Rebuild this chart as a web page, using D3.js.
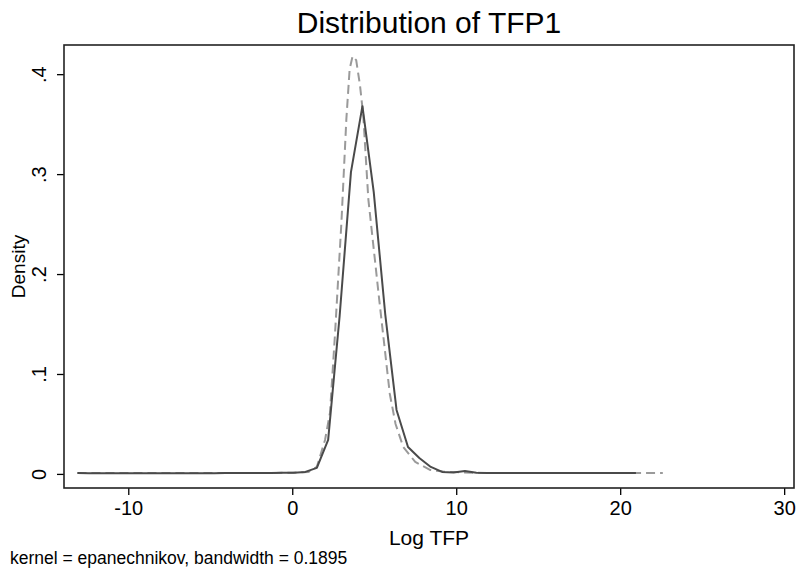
<!DOCTYPE html>
<html>
<head>
<meta charset="utf-8">
<script src="https://cdn.jsdelivr.net/npm/d3@7"></script>
<style>
  body { margin: 0; background: #fff; }
  text { font-family: "Liberation Sans", Arial, sans-serif; fill: #000; }
</style>
</head>
<body>
<div id="chart"></div>
<script>
// kernel density, solid series (Stata grid of 50 points)
var solidX = [-13.1, -12.4, -11.71, -11.02, -10.32, -9.63, -8.93, -8.24, -7.54, -6.85,
              -6.15, -5.46, -4.76, -4.07, -3.37, -2.68, -1.98, -1.29, -0.59, 0.1,
              0.8, 1.5, 2.19, 2.89, 3.58, 4.28, 4.97, 5.67, 6.36, 7.06,
              7.75, 8.45, 9.14, 9.84, 10.53, 11.23, 11.92, 12.62, 13.31, 14.0,
              14.7, 15.4, 16.09, 16.79, 17.48, 18.18, 18.87, 19.57, 20.26, 20.96];
var solidY = [0.0008, 0.0007, 0.0007, 0.0007, 0.0007, 0.0007, 0.0007, 0.0007, 0.0007, 0.0007,
              0.0007, 0.0007, 0.0007, 0.0008, 0.0008, 0.0008, 0.0009, 0.001, 0.0012, 0.0012,
              0.002, 0.006, 0.034, 0.158, 0.302, 0.368, 0.282, 0.16, 0.064, 0.027,
              0.016, 0.007, 0.002, 0.0015, 0.003, 0.0012, 0.0008, 0.0008, 0.0008, 0.0009,
              0.0009, 0.0008, 0.0008, 0.0008, 0.0008, 0.0008, 0.0008, 0.0008, 0.0008, 0.0008];

// dashed series
var dashX = [-13.1, -11, -9, -7, -5, -3, -1, 0, 0.5, 1.0,
             1.5, 2.0, 2.3, 2.6, 3.0, 3.3, 3.5, 3.68, 3.9, 4.13,
             4.33, 4.64, 5.3, 5.95, 6.3, 6.77, 7.5, 8.4, 9.2, 10,
             11, 12, 14, 16, 18, 20, 21.5, 22.6];
var dashY = [0.0008, 0.0008, 0.0008, 0.0008, 0.0008, 0.0008, 0.001, 0.0012, 0.0015, 0.002,
             0.007, 0.034, 0.061, 0.138, 0.252, 0.355, 0.405, 0.418, 0.414, 0.389,
             0.359, 0.275, 0.175, 0.08, 0.05, 0.027, 0.012, 0.004, 0.0023, 0.0018,
             0.0012, 0.001, 0.001, 0.0009, 0.0009, 0.0009, 0.0008, 0.0008];

var xTicks = [-10, 0, 10, 20, 30];
var xTickLabels = ["-10", "0", "10", "20", "30"];
var yTicks = [0, 0.1, 0.2, 0.3, 0.4];
var yTickLabels = ["0", ".1", ".2", ".3", ".4"];

var titleText = "Distribution of TFP1";
var xLabel = "Log TFP";
var yLabel = "Density";
var noteText = "kernel = epanechnikov, bandwidth = 0.1895";

var W = 796, H = 569;
var margin = {top: 45, right: 2, bottom: 81, left: 64};
var width = W - margin.left - margin.right,
    height = H - margin.top - margin.bottom;

var svg = d3.select("#chart").append("svg")
    .attr("width", W)
    .attr("height", H);

var g = svg.append("g")
    .attr("transform", "translate(" + margin.left + "," + margin.top + ")");

var x = d3.scaleLinear().domain([-13.92, 30.6]).range([0, width]);
var y = d3.scaleLinear().domain([-0.0141, 0.4292]).range([height, 0]);

// x axis
var xAxis = g.append("g")
    .attr("transform", "translate(0," + height + ")")
    .call(d3.axisBottom(x).tickValues(xTicks).tickSize(7).tickPadding(6)
        .tickFormat(function(d, i) { return xTickLabels[i]; }));
xAxis.select(".domain").remove();
xAxis.selectAll("line").attr("stroke", "#000").attr("stroke-width", 1.3);
xAxis.selectAll("text").style("font-size", "20px").style("font-family", "Liberation Sans, Arial, sans-serif");

// y axis with rotated labels
var yAxis = g.append("g")
    .call(d3.axisLeft(y).tickValues(yTicks).tickSize(7).tickFormat(function(d, i) { return yTickLabels[i]; }));
yAxis.select(".domain").remove();
yAxis.selectAll("line").attr("stroke", "#000").attr("stroke-width", 1.3);
yAxis.selectAll("text")
    .attr("x", null).attr("dy", null)
    .attr("transform", "translate(-18,0) rotate(-90)")
    .attr("text-anchor", "middle")
    .style("font-size", "20px")
    .style("font-family", "Liberation Sans, Arial, sans-serif");

// frame
g.append("rect")
    .attr("x", 0).attr("y", 0)
    .attr("width", width).attr("height", height)
    .attr("fill", "none")
    .attr("stroke", "#222")
    .attr("stroke-width", 1.6);

var line = d3.line()
    .x(function(d) { return x(d[0]); })
    .y(function(d) { return y(d[1]); });

var dashData = dashX.map(function(v, i) { return [v, dashY[i]]; });
var solidData = solidX.map(function(v, i) { return [v, solidY[i]]; });

g.append("path")
    .datum(dashData)
    .attr("d", line)
    .attr("fill", "none")
    .attr("stroke", "#9a9a9a")
    .attr("stroke-width", 2)
    .attr("stroke-dasharray", "9,5")
    .attr("stroke-linejoin", "round");

g.append("path")
    .datum(solidData)
    .attr("d", line)
    .attr("fill", "none")
    .attr("stroke", "#4a4a4a")
    .attr("stroke-width", 2)
    .attr("stroke-linejoin", "round");

// titles
svg.append("text")
    .attr("x", margin.left + width / 2)
    .attr("y", 33)
    .attr("text-anchor", "middle")
    .style("font-size", "30px")
    .text(titleText);

svg.append("text")
    .attr("x", margin.left + width / 2)
    .attr("y", 545)
    .attr("text-anchor", "middle")
    .style("font-size", "21px")
    .text(xLabel);

svg.append("text")
    .attr("transform", "translate(25," + (margin.top + height / 2) + ") rotate(-90)")
    .attr("text-anchor", "middle")
    .style("font-size", "19px")
    .text(yLabel);

svg.append("text")
    .attr("x", 10)
    .attr("y", 564)
    .style("font-size", "17.5px")
    .text(noteText);
</script>
</body>
</html>
